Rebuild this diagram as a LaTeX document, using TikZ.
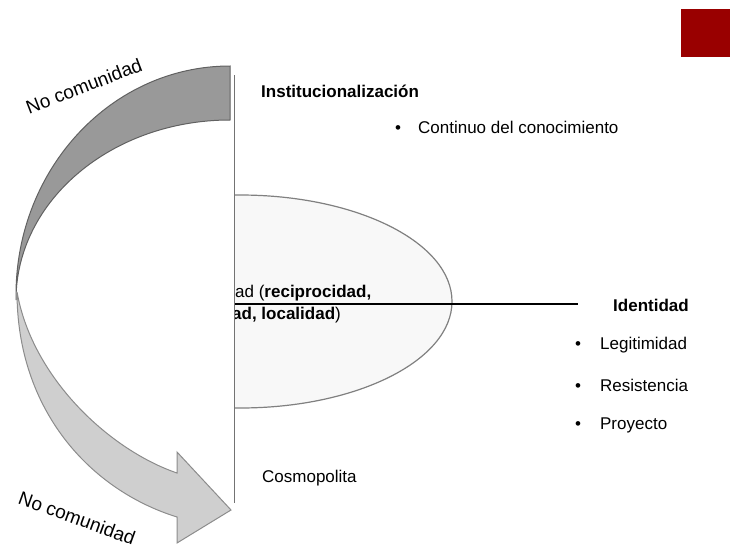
\documentclass[tikz,border=0pt]{standalone}
\usepackage{fontspec}
\setmainfont{Liberation Sans}
\definecolor{sqred}{HTML}{990000}
\definecolor{ellfill}{HTML}{F8F8F8}
\begin{document}
\begin{tikzpicture}[x=1pt,y=1pt,yscale=-1,
  lbl/.style={font=\fontsize{17}{20}\selectfont, inner sep=0pt, text=black},
  biglbl/.style={font=\fontsize{19}{22}\selectfont, inner sep=0pt, text=black},
  toparrow/.style={fill=black!40, draw=black!62, line width=1pt},
  botarrow/.style={fill=black!19, draw=black!45, line width=1pt},
  thinline/.style={draw=black!55, line width=0.9pt}]
\useasboundingbox (0,0) rectangle (730,554);
% red square
\fill[sqred] (681,9) rectangle (730,57);
% ellipse
\draw[fill=ellfill, draw=black!50, line width=1.2pt] (240,301.5) ellipse [x radius=212, y radius=106.5];
\begin{scope}
  \clip (234,0) rectangle (730,554);
  \node[lbl, anchor=west] (c1) at (235,293) {ad (\textbf{reciprocidad,}};
  \node[lbl, anchor=west] (c2) at (232,315) {\textbf{ad, localidad})};
\end{scope}
% labels right
\node[lbl, anchor=west] (inst) at (261,91) {\textbf{Institucionalización}};
\node[lbl, anchor=west] (cont) at (395,127) {\textbullet\hspace{17pt}Continuo del conocimiento};
\node[lbl, anchor=west] (iden) at (613,305) {\textbf{Identidad}};
\node[lbl, anchor=west] (legi) at (575,345) {\textbullet\hspace{19pt}Legitimidad};
\node[lbl, anchor=west] (resi) at (575,385) {\textbullet\hspace{19pt}Resistencia};
\node[lbl, anchor=west] (proy) at (575,425) {\textbullet\hspace{19pt}Proyecto};
\node[lbl, anchor=west] (cosm) at (262,478) {Cosmopolita};
% horizontal line
\coordinate (hl) at (234,304);
\coordinate (hr) at (578,304);
\draw[line width=1.3pt] (hl) -- (hr);
% white cover and its border
\fill[white] (0,150) rectangle (234,460);
\draw[thinline] (234,75) -- (234,503);
% top arrow band
\filldraw[toparrow] (16,295) arc[start angle=180, end angle=270, x radius=214, y radius=229]
  -- (230,120) arc[start angle=270, end angle=180, x radius=214, y radius=180] -- cycle;
% bottom arrow
\filldraw[botarrow] (17,292) .. controls (17,410) and (90,490) .. (177,517)
  -- (177,543) -- (231,510) -- (177,452) -- (177,473)
  .. controls (110,450) and (35,380) .. (18,297) -- cycle;
% rotated labels
\node[biglbl, rotate=21] (nc1) at (84,86) {No comunidad};
\node[biglbl, rotate=-20] (nc2) at (77,518) {No comunidad};
\end{tikzpicture}
\end{document}
